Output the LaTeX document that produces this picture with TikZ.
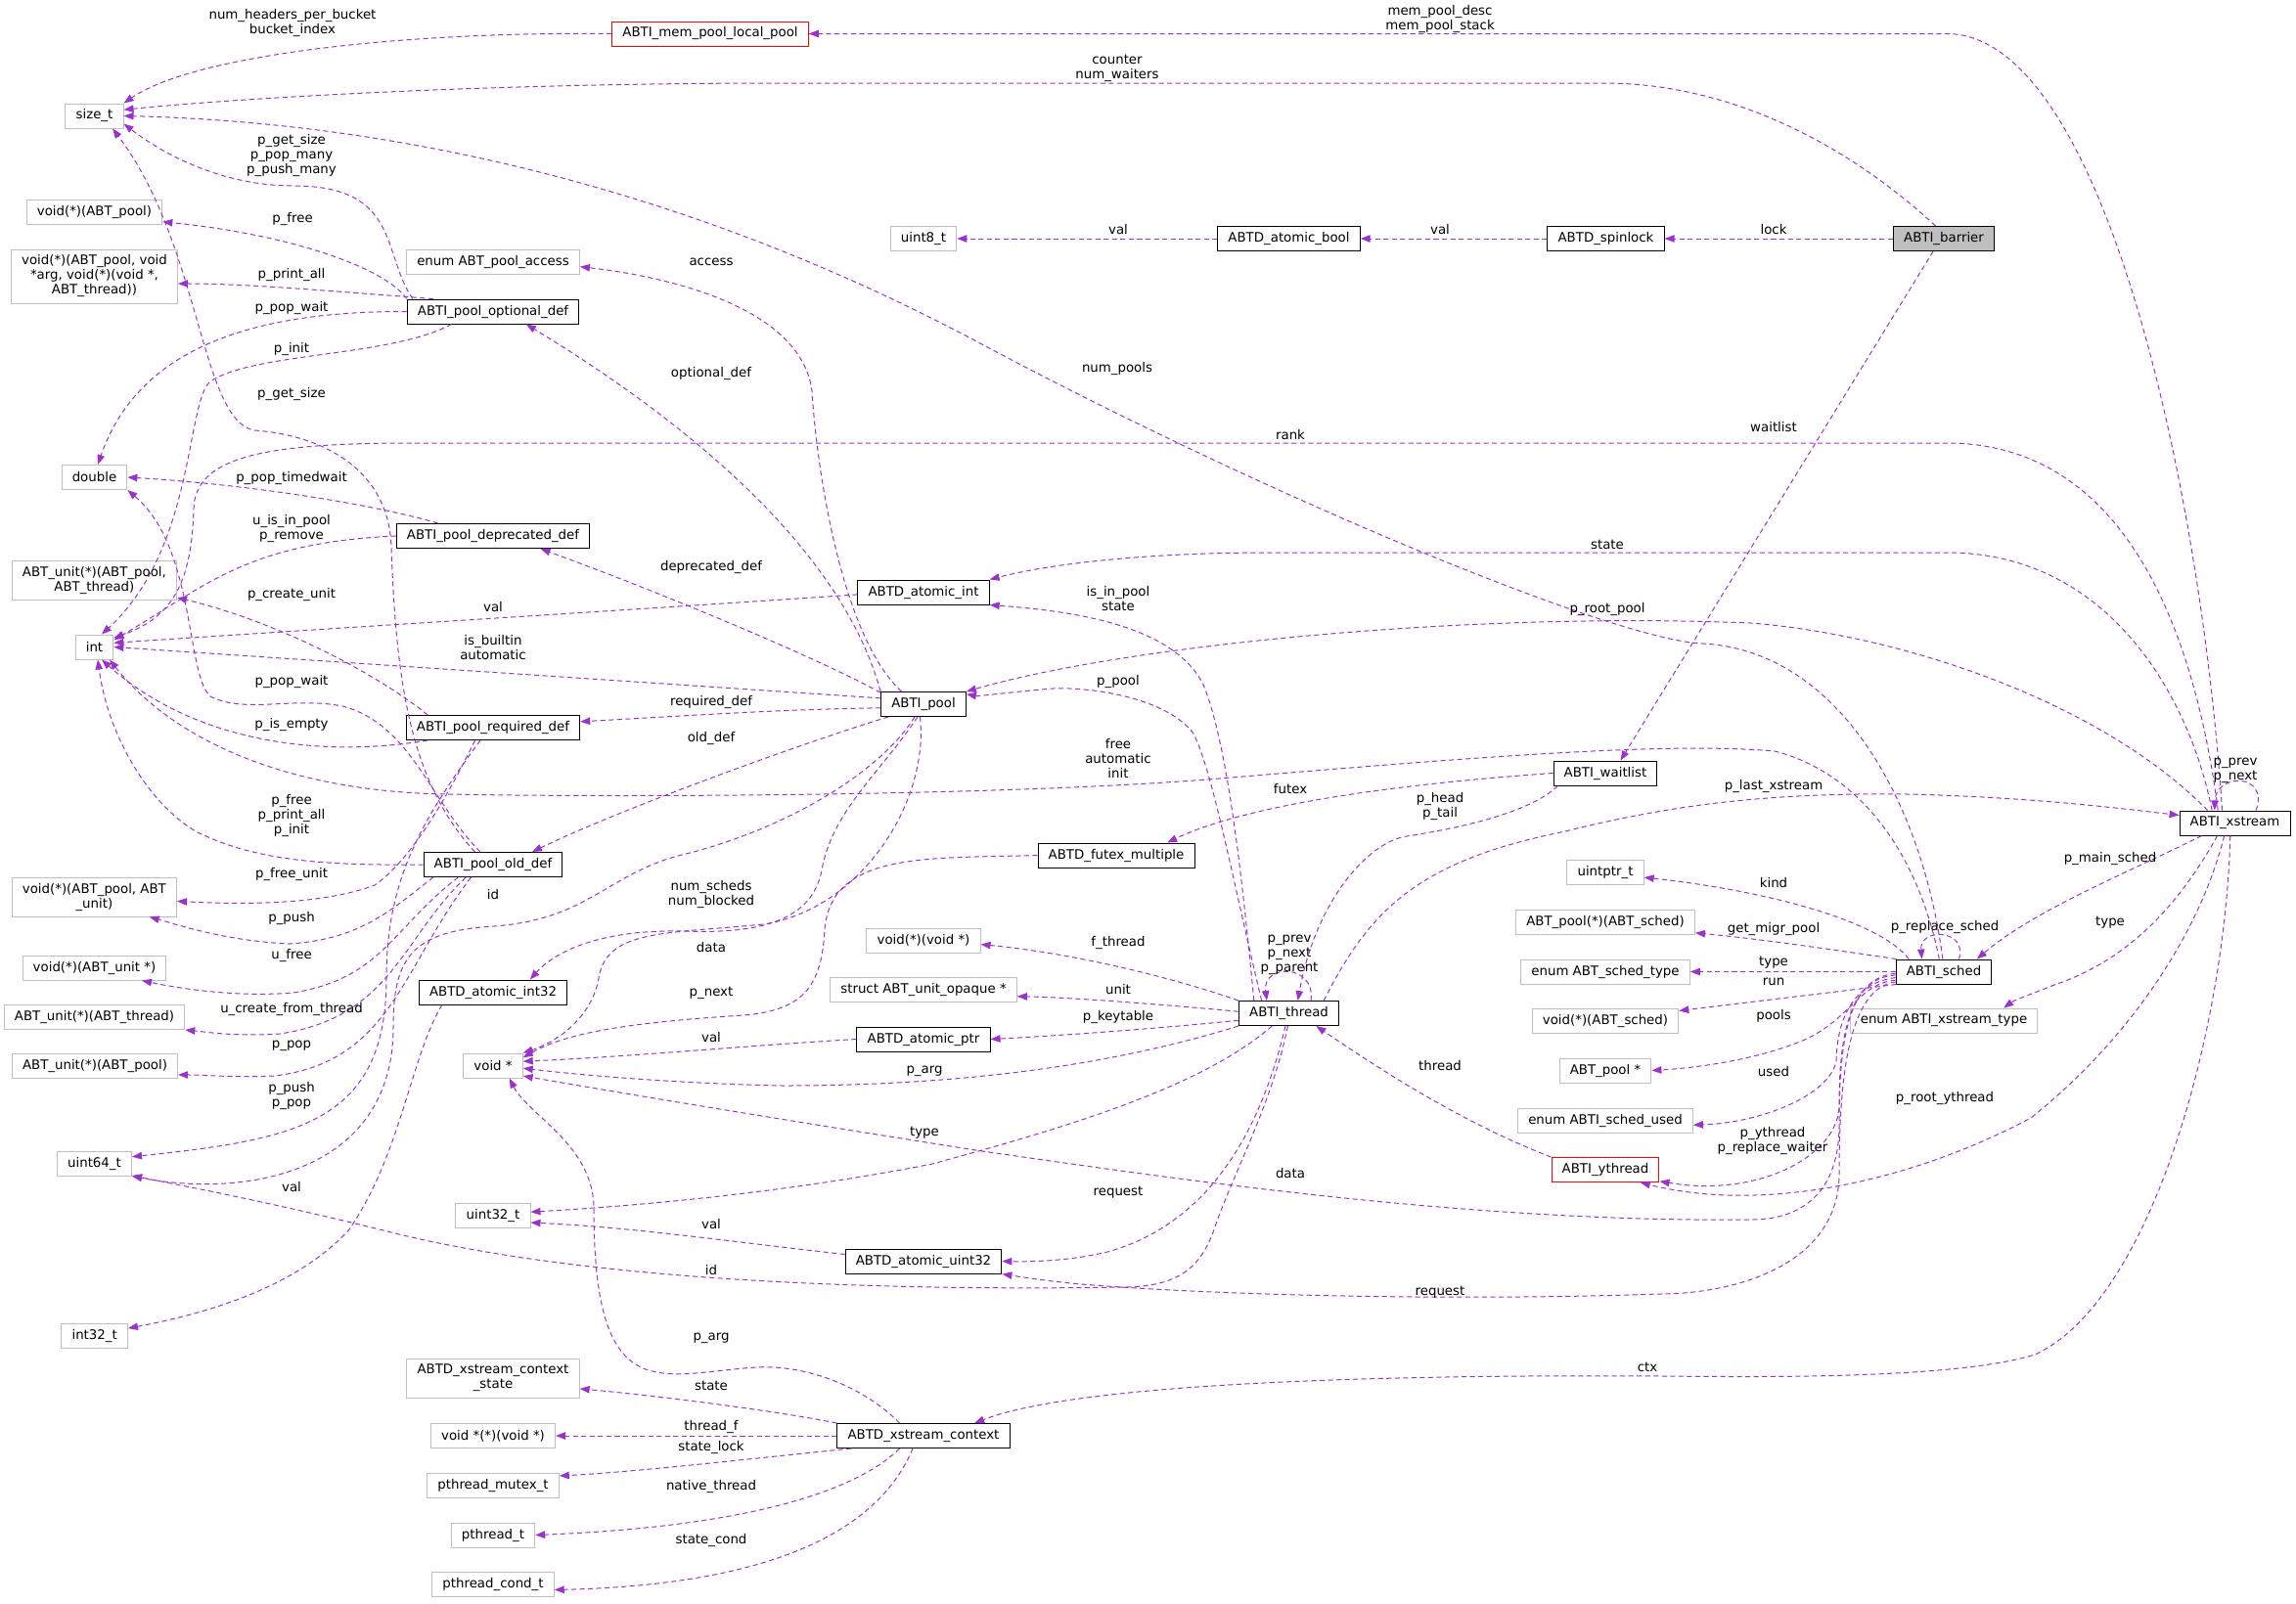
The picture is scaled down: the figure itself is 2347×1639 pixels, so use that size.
\documentclass[tikz,border=0pt]{standalone}
\usepackage{fontspec}
\setmainfont{DejaVu Sans}
\usetikzlibrary{arrows.meta}
\definecolor{edgepurple}{RGB}{154,50,205}
\definecolor{typegray}{RGB}{191,191,191}

\begin{document}
\begin{tikzpicture}[x=0.75pt,y=-0.75pt,
  font=\fontsize{10}{11.25}\selectfont,
  typ/.style={draw=typegray,line width=0.75pt,inner xsep=8pt,inner ysep=0pt,minimum height=18.75pt,align=center},
  cls/.style={typ,draw=black},
  hit/.style={typ,draw=red},
  usage/.style={draw=edgepurple,line width=0.75pt,dash pattern=on 3.8pt off 2.6pt,-{Triangle[length=7.5pt,width=5.6pt]}},
  lbl/.style={inner sep=0pt,align=center}]
\useasboundingbox (0,0) rectangle (2347,1639);

% 左の列
\node[typ] (sizeT) at (96.5,118.5) {size\_t};
\node[typ] (voidPool) at (96.5,217) {void(*)(ABT\_pool)};
\node[typ,minimum height=41.25pt] (voidPrint) at (96.5,282.5) {void(*)(ABT\_pool, void\\*arg, void(*)(void *,\\ABT\_thread))};
\node[typ] (dbl) at (96.5,488) {double};
\node[typ,minimum height=30pt] (unitPoolThr) at (96.4,593) {ABT\_unit(*)(ABT\_pool,\\ABT\_thread)};
\node[typ] (intT) at (96.5,661.5) {int};
\node[typ,minimum height=30pt] (voidPoolUnit) at (96.4,917) {void(*)(ABT\_pool, ABT\\\_unit)};
\node[typ] (voidUnit) at (96.5,989.5) {void(*)(ABT\_unit *)};
\node[typ] (unitThr) at (96.5,1040) {ABT\_unit(*)(ABT\_thread)};
\node[typ] (unitPool) at (97,1090) {ABT\_unit(*)(ABT\_pool)};
\node[typ] (uint64) at (96.5,1189.5) {uint64\_t};
\node[typ] (int32) at (96.7,1366) {int32\_t};

% 2列目
\node[typ] (enumAccess) at (504,268) {enum ABT\_pool\_access};
\node[cls] (optDef) at (504,318.5) {ABTI\_pool\_optional\_def};
\node[cls] (deprDef) at (504,548) {ABTI\_pool\_deprecated\_def};
\node[cls] (reqDef) at (504,744) {ABTI\_pool\_required\_def};
\node[cls] (oldDef) at (504,884) {ABTI\_pool\_old\_def};
\node[cls] (atomicInt32) at (504,1014.5) {ABTD\_atomic\_int32};
\node[typ] (voidPtr) at (504,1089.5) {void *};
\node[typ] (uint32) at (504,1242.5) {uint32\_t};
\node[typ,minimum height=30pt] (ctxState) at (504,1409) {ABTD\_xstream\_context\\\_state};
\node[typ] (voidFn) at (504,1468) {void *(*)(void *)};
\node[typ] (mutex) at (504,1518.5) {pthread\_mutex\_t};
\node[typ] (pthr) at (504,1569.5) {pthread\_t};
\node[typ] (cond) at (504,1620) {pthread\_cond\_t};

% 3列目
\node[hit] (memPool) at (726,34.5) {ABTI\_mem\_pool\_local\_pool};
\node[typ] (uint8) at (944,244) {uint8\_t};
\node[cls] (atomicInt) at (944,605.5) {ABTD\_atomic\_int};
\node[cls] (pool) at (944,720) {ABTI\_pool};
\node[typ] (voidVoid) at (944,961.5) {void(*)(void *)};
\node[typ] (unitOpaque) at (944,1012) {struct ABT\_unit\_opaque *};
\node[cls] (atomicPtr) at (944,1062.5) {ABTD\_atomic\_ptr};
\node[cls] (atomicU32) at (944,1289.5) {ABTD\_atomic\_uint32};
\node[cls] (xsCtx) at (944,1468) {ABTD\_xstream\_context};
\node[cls] (futex) at (1141,874.5) {ABTD\_futex\_multiple};
\node[cls] (atomicBool) at (1317.5,244) {ABTD\_atomic\_bool};
\node[cls] (thread) at (1317.5,1036) {ABTI\_thread};

% 右側
\node[cls] (spinlock) at (1641.5,244) {ABTD\_spinlock};
\node[cls] (waitlist) at (1641,790.5) {ABTI\_waitlist};
\node[typ] (uintptr) at (1641,891.5) {uintptr\_t};
\node[typ] (poolSched) at (1641,942.5) {ABT\_pool(*)(ABT\_sched)};
\node[typ] (schedType) at (1641,993.5) {enum ABT\_sched\_type};
\node[typ] (voidSched) at (1641,1044) {void(*)(ABT\_sched)};
\node[typ] (poolPtr) at (1641,1094.5) {ABT\_pool *};
\node[typ] (schedUsed) at (1641,1145.5) {enum ABTI\_sched\_used};
\node[hit] (ythread) at (1641,1196) {ABTI\_ythread};
\node[cls,fill=typegray] (barrier) at (1987,244) {ABTI\_barrier};
\node[cls] (sched) at (1987,993.5) {ABTI\_sched};
\node[typ] (xsType) at (1987,1043.5) {enum ABTI\_xstream\_type};
\node[cls] (xstream) at (2284.5,841.5) {ABTI\_xstream};

% 上の横の辺
\foreach \s/\t/\x/\w in {barrier/spinlock/1813/lock, spinlock/atomicBool/1472/val, atomicBool/uint8/1143/val}
  \draw[usage] (\s.west) -- (\t.east) node[lbl] (l\s) at (\x,235) {\w};

% size_t へ
\draw[usage] (memPool.west) .. controls (420,32) and (200,55) .. (sizeT.north east);
\node[lbl] (lNumHdr) at (299,24) {num\_headers\_per\_bucket\\bucket\_index};
\draw[usage] (barrier.123) .. controls (1880,140) and (1760,85) .. (1640,85) -- (800,85) .. controls (500,85) and (250,100) .. (sizeT.12);
\node[lbl] (lCounter) at (1142,70) {counter\\num\_waiters};
\draw[usage] (sched.95) .. controls (1965,820) and (1880,665) .. (1740,658) .. controls (1650,654) and (1300,510) .. (1000,350) .. controls (700,190) and (400,125) .. (sizeT.east);
\node[lbl] (lNumPools) at (1142,377) {num\_pools};
\draw[usage] (optDef.171) .. controls (390,260) and (410,190) .. (300,190) .. controls (230,190) and (170,160) .. (sizeT.-15);
\node[lbl] (lGetMany) at (298,159) {p\_get\_size\\p\_pop\_many\\p\_push\_many};
\draw[usage] (oldDef.145) .. controls (420,800) and (405,700) .. (400,560) .. controls (398,480) and (330,445) .. (260,440) .. controls (205,430) and (205,250) .. (sizeT.-35);
\node[lbl] (lGetSize) at (298,403) {p\_get\_size};

% optional_def から
\draw[usage] (optDef.north west) .. controls (395,275) and (300,240) .. (voidPool.-8);
\node[lbl] (lFree) at (299,224) {p\_free};
\draw[usage] (optDef.168) .. controls (330,297) and (250,290) .. (voidPrint.-5);
\node[lbl] (lPrint) at (298,281) {p\_print\_all};
\draw[usage] (optDef.west) .. controls (250,318) and (140,360) .. (dbl.75);
\node[lbl] (lPopWaitA) at (298,315) {p\_pop\_wait};
\draw[usage] (optDef.197) .. controls (400,365) and (260,360) .. (215,390) .. controls (190,410) and (200,560) .. (intT.60);
\node[lbl] (lInit) at (298,357) {p\_init};

% deprecated_def, required_def, old_def から
\draw[usage] (deprDef.167) .. controls (380,515) and (250,495) .. (dbl.east);
\node[lbl] (lTimed) at (298,489) {p\_pop\_timedwait};
\draw[usage] (deprDef.west) .. controls (250,555) and (210,600) .. (intT.20);
\node[lbl] (lInPool) at (298,540) {u\_is\_in\_pool\\p\_remove};
\draw[usage] (reqDef.169) .. controls (400,700) and (300,640) .. (unitPoolThr.-12);
\node[lbl] (lCreate) at (298,608) {p\_create\_unit};
\draw[usage] (reqDef.191) .. controls (330,775) and (200,760) .. (intT.-60);
\node[lbl] (lEmpty) at (298,741) {p\_is\_empty};
\draw[usage] (reqDef.215) .. controls (460,810) and (420,880) .. (383,905) .. controls (330,925) and (250,925) .. (voidPoolUnit.-3);
\node[lbl] (lFreeUnit) at (298,894) {p\_free\_unit};
\draw[usage] (reqDef.225) .. controls (430,840) and (395,900) .. (395,1000) .. controls (395,1150) and (300,1165) .. (uint64.10);
\node[lbl] (lPushPop) at (298,1120) {p\_push\\p\_pop};
\draw[usage] (oldDef.135) .. controls (440,820) and (420,740) .. (350,722) .. controls (300,712) and (250,730) .. (215,712) .. controls (190,690) and (200,560) .. (dbl.south east);
\node[lbl] (lPopWaitB) at (298,697) {p\_pop\_wait};
\draw[usage] (oldDef.west) .. controls (330,885) and (260,880) .. (200,850) .. controls (150,820) and (110,750) .. (intT.-75);
\node[lbl] (lFreeAll) at (298,834) {p\_free\\p\_print\_all\\p\_init};
\draw[usage] (oldDef.192) .. controls (400,930) and (370,960) .. (296,965) .. controls (230,962) and (180,945) .. (voidPoolUnit.-20);
\node[lbl] (lPush) at (298,939) {p\_push};
\draw[usage] (oldDef.200) .. controls (400,950) and (390,1000) .. (300,1015) .. controls (240,1020) and (180,1010) .. (voidUnit.-15);
\node[lbl] (lUFree) at (298,977) {u\_free};
\draw[usage] (oldDef.205) .. controls (410,960) and (400,1040) .. (286,1057) .. controls (240,1060) and (210,1055) .. (unitThr.south east);
\node[lbl] (lFromThr) at (298,1032) {u\_create\_from\_thread};
\draw[usage] (oldDef.210) .. controls (410,990) and (400,1085) .. (281,1100) .. controls (240,1102) and (210,1099) .. (unitPool.-6);
\node[lbl] (lPop) at (298,1069) {p\_pop};
\draw[usage] (atomicInt32.-166) .. controls (420,1080) and (410,1180) .. (357,1257) .. controls (300,1320) and (200,1345) .. (int32.13);
\node[lbl] (lValI32) at (298,1214) {val};

% ABTI_pool から
\draw[usage] (pool.150) .. controls (860,650) and (835,480) .. (830,400) .. controls (820,320) and (700,285) .. (enumAccess.-3);
\node[lbl] (lAccess) at (727,268) {access};
\draw[usage] (pool.north west) .. controls (860,560) and (700,430) .. (optDef.-21);
\node[lbl] (lOpt) at (727,382) {optional\_def};
\draw[usage] (pool.165) .. controls (850,680) and (700,615) .. (deprDef.-15);
\node[lbl] (lDepr) at (727,580) {deprecated\_def};
\draw[usage] (pool.185) .. controls (800,725) and (700,732) .. (reqDef.4);
\node[lbl] (lReq) at (727,718) {required\_def};
\draw[usage] (pool.-160) .. controls (850,750) and (650,820) .. (oldDef.18);
\node[lbl] (lOld) at (727,755) {old\_def};
\draw[usage] (pool.172) -- (intT.east);
\node[lbl] (lBuiltin) at (504,662) {is\_builtin\\automatic};
\draw[usage] (atomicInt.182) .. controls (700,620) and (300,645) .. (intT.12);
\node[lbl] (lValInt) at (504,621) {val};
\draw[usage] (pool.-125) .. controls (900,790) and (800,850) .. (693,875) .. controls (620,895) and (600,940) .. (505,947) .. controls (420,952) and (402,980) .. (402,1050) .. controls (402,1200) and (250,1225) .. (uint64.south east);
\node[lbl] (lIdPool) at (504,915) {id};
\draw[usage] (pool.-115) .. controls (900,790) and (850,830) .. (840,890) .. controls (830,940) and (780,955) .. (700,952) .. controls (620,950) and (570,970) .. (atomicInt32.19);
\node[lbl] (lScheds) at (727,914) {num\_scheds\\num\_blocked};
\draw[usage] (pool.-105) .. controls (950,820) and (880,930) .. (780,945) .. controls (680,955) and (620,950) .. (612,1000) .. controls (605,1040) and (570,1065) .. (voidPtr.north east);
\node[lbl] (lDataPool) at (727,969) {data};
\draw[usage] (futex.west) .. controls (950,878) and (850,870) .. (843,950) .. controls (840,1010) and (820,1033) .. (760,1038) .. controls (650,1045) and (580,1055) .. (voidPtr.15);
\node[lbl] (lNext) at (727,1015) {p\_next};
\draw[usage] (atomicPtr.west) .. controls (750,1070) and (650,1080) .. (voidPtr.8);
\node[lbl] (lValPtr) at (727,1061) {val};

% ABTI_thread から
\draw[usage] (thread.north west) .. controls (1200,1000) and (1100,975) .. (voidVoid.-4);
\node[lbl] (lFThread) at (1143,964) {f\_thread};
\draw[usage] (thread.178) .. controls (1200,1028) and (1100,1020) .. (unitOpaque.-4);
\node[lbl] (lUnit) at (1143,1012) {unit};
\draw[usage] (thread.-172) .. controls (1200,1050) and (1100,1058) .. (atomicPtr.east);
\node[lbl] (lKeytable) at (1143,1040) {p\_keytable};
\draw[usage] (thread.south west) .. controls (1150,1085) and (1000,1110) .. (800,1110) .. controls (700,1108) and (600,1100) .. (voidPtr.-5);
\node[lbl] (lArgThr) at (945,1095) {p\_arg};
\draw[usage] (thread.-143) .. controls (1230,1110) and (1100,1150) .. (953,1190) .. controls (800,1220) and (650,1233) .. (uint32.5);
\node[lbl] (lType) at (945,1158) {type};
\draw[usage] (atomicU32.175) .. controls (750,1270) and (650,1255) .. (uint32.-11);
\node[lbl] (lValU32) at (727,1252) {val};
\draw[usage] (thread.-95) .. controls (1300,1130) and (1260,1200) .. (1240,1260) .. controls (1225,1300) and (1200,1315) .. (1150,1316) .. controls (900,1320) and (600,1310) .. (400,1260) .. controls (280,1230) and (200,1215) .. (uint64.-18);
\node[lbl] (lIdThr) at (727,1299) {id};
\draw[usage] (thread.-105) .. controls (1290,1150) and (1240,1250) .. (1132,1280) .. controls (1090,1290) and (1050,1290) .. (atomicU32.east);
\node[lbl] (lReqThr) at (1143,1219) {request};
\draw[usage] (thread.160) .. controls (1270,900) and (1255,760) .. (1230,700) .. controls (1200,640) and (1100,625) .. (atomicInt.south east);
\node[lbl] (lInPoolState) at (1143,612) {is\_in\_pool\\state};
\draw[usage] (thread.155) .. controls (1260,900) and (1240,790) .. (1220,750) .. controls (1190,710) and (1100,700) .. (1065,705) .. controls (1030,708) and (1000,712) .. (pool.13);
\node[lbl] (lPPool) at (1143,697) {p\_pool};
\draw[usage] (thread.30) .. controls (1345,985) and (1290,985) .. (thread.150);
\node[lbl] (lThrSelf) at (1318,976) {p\_prev\\p\_next\\p\_parent};
\draw[usage] (thread.20) .. controls (1400,930) and (1450,880) .. (1600,850) .. controls (1700,825) and (1800,810) .. (1950,812) .. controls (2080,815) and (2180,828) .. (xstream.172);
\node[lbl] (lLastXs) at (1813,804) {p\_last\_xstream};

% barrier, waitlist, ythread
\draw[usage] (barrier.-130) -- (waitlist.40);
\node[lbl] (lWaitlist) at (1813,437) {waitlist};
\draw[usage] (waitlist.west) .. controls (1450,800) and (1280,820) .. (futex.14);
\node[lbl] (lFutex) at (1319,807) {futex};
\draw[usage] (waitlist.195) .. controls (1560,835) and (1470,850) .. (1438,855) .. controls (1400,860) and (1345,920) .. (thread.55);
\node[lbl] (lHead) at (1472,824) {p\_head\\p\_tail};
\draw[usage] (ythread.north west) .. controls (1500,1150) and (1420,1100) .. (thread.-25);
\node[lbl] (lThread) at (1472,1090) {thread};

% ABTI_sched から
\draw[usage] (sched.160) .. controls (1920,940) and (1800,910) .. (uintptr.-8);
\node[lbl] (lKind) at (1813,903) {kind};
\draw[usage] (sched.165) .. controls (1880,972) and (1800,960) .. (poolSched.-7);
\node[lbl] (lMigr) at (1813,950) {get\_migr\_pool};
\draw[usage] (sched.west) -- (schedType.east);
\node[lbl] (lSchedType) at (1813,984) {type};
\draw[usage] (sched.-165) -- (voidSched.8);
\node[lbl] (lRun) at (1813,1004) {run};
\draw[usage] (sched.190) .. controls (1900,1005) and (1890,1045) .. (1840,1065) .. controls (1790,1085) and (1730,1092) .. (poolPtr.east);
\node[lbl] (lPools) at (1813,1039) {pools};
\draw[usage] (sched.187) .. controls (1895,1005) and (1878,1040) .. (1877,1085) .. controls (1870,1120) and (1800,1148) .. (schedUsed.-3);
\node[lbl] (lUsed) at (1813,1096) {used};
\draw[usage] (sched.184) .. controls (1890,1000) and (1880,1060) .. (1880,1130) .. controls (1880,1180) and (1800,1225) .. (ythread.-12);
\node[lbl] (lYthread) at (1812,1166) {p\_ythread\\p\_replace\_waiter};
\draw[usage] (sched.182) .. controls (1890,1000) and (1880,1060) .. (1880,1150) .. controls (1880,1230) and (1830,1247) .. (1790,1247) .. controls (1500,1250) and (1200,1205) .. (1004,1177) .. controls (800,1145) and (620,1115) .. (voidPtr.-19);
\node[lbl] (lDataSched) at (1319,1200) {data};
\draw[usage] (sched.192) .. controls (1890,1010) and (1880,1100) .. (1880,1200) .. controls (1880,1290) and (1780,1323) .. (1695,1323) .. controls (1500,1330) and (1250,1325) .. (1106,1313) .. controls (1070,1310) and (1040,1305) .. (atomicU32.south east);
\node[lbl] (lReqSched) at (1472,1321) {request};
\draw[usage] (sched.110) .. controls (1960,870) and (1900,790) .. (1814,768) .. controls (1700,758) and (1500,775) .. (1234,797) .. controls (1000,815) and (600,815) .. (459,812) .. controls (300,810) and (180,760) .. (intT.-40);
\node[lbl] (lAuto) at (1143,775) {free\\automatic\\init};
\draw[usage] (sched.40) .. controls (2012,950) and (1962,948) .. (sched.150);
\node[lbl] (lReplace) at (1988,948) {p\_replace\_sched};

% ABTI_xstream から
\draw[usage] (xstream.135) .. controls (2250,500) and (2150,34.5) .. (1990,34.5) -- (memPool.east);
\node[lbl] (lMemPool) at (1472,20) {mem\_pool\_desc\\mem\_pool\_stack};
\draw[usage] (xstream.143) .. controls (2240,620) and (2160,453) .. (1990,453) -- (420,453) .. controls (260,453) and (200,470) .. (198,520) .. controls (196,590) and (180,630) .. (intT.25);
\node[lbl] (lRank) at (1319,445) {rank};
\draw[usage] (xstream.151) .. controls (2240,720) and (2160,565) .. (1990,565) -- (1300,565) .. controls (1150,565) and (1060,580) .. (atomicInt.north east);
\node[lbl] (lState) at (1643,557) {state};
\draw[usage] (xstream.155) .. controls (2150,720) and (1950,650) .. (1790,637) .. controls (1500,625) and (1150,660) .. (pool.north east);
\node[lbl] (lRootPool) at (1643,623) {p\_root\_pool};
\draw[usage] (xstream.31) .. controls (2320,790) and (2265,790) .. (xstream.148);
\node[lbl] (lXsSelf) at (2285,788) {p\_prev\\p\_next};
\draw[usage] (xstream.-159) .. controls (2180,890) and (2080,930) .. (sched.21);
\node[lbl] (lMainSched) at (2157,878) {p\_main\_sched};
\draw[usage] (xstream.-144) .. controls (2230,920) and (2180,980) .. (2100,1007) .. controls (2080,1015) and (2060,1022) .. (xsType.12);
\node[lbl] (lXsType) at (2157,943) {type};
\draw[usage] (xstream.-130) .. controls (2250,950) and (2180,1060) .. (2076,1143) .. controls (1950,1210) and (1800,1240) .. (ythread.-20);
\node[lbl] (lRootYth) at (1988,1123) {p\_root\_ythread};
\draw[usage] (xstream.-110) .. controls (2275,1050) and (2200,1330) .. (2080,1385) .. controls (2000,1410) and (1800,1408) .. (1700,1407) .. controls (1400,1405) and (1100,1415) .. (xsCtx.14);
\node[lbl] (lCtx) at (1684,1398) {ctx};

% ABTD_xstream_context から
\draw[usage] (xsCtx.152) .. controls (880,1415) and (820,1395) .. (772,1398) .. controls (720,1402) and (690,1410) .. (660,1400) .. controls (620,1385) and (607,1330) .. (607,1233) .. controls (605,1170) and (540,1140) .. (voidPtr.-38);
\node[lbl] (lArgCtx) at (727,1368) {p\_arg};
\draw[usage] (xsCtx.north west) .. controls (780,1440) and (650,1425) .. (ctxState.-7);
\node[lbl] (lCtxState) at (727,1417) {state};
\draw[usage] (xsCtx.west) -- (voidFn.east);
\node[lbl] (lThreadF) at (727,1459) {thread\_f};
\draw[usage] (xsCtx.-170) .. controls (780,1490) and (650,1505) .. (mutex.8);
\node[lbl] (lStateLock) at (727,1480) {state\_lock};
\draw[usage] (xsCtx.-152) .. controls (880,1520) and (780,1560) .. (pthr.east);
\node[lbl] (lNative) at (727,1520) {native\_thread};
\draw[usage] (xsCtx.-130) .. controls (900,1560) and (800,1620) .. (cond.-5);
\node[lbl] (lStateCond) at (727,1575) {state\_cond};
\end{tikzpicture}
\end{document}
